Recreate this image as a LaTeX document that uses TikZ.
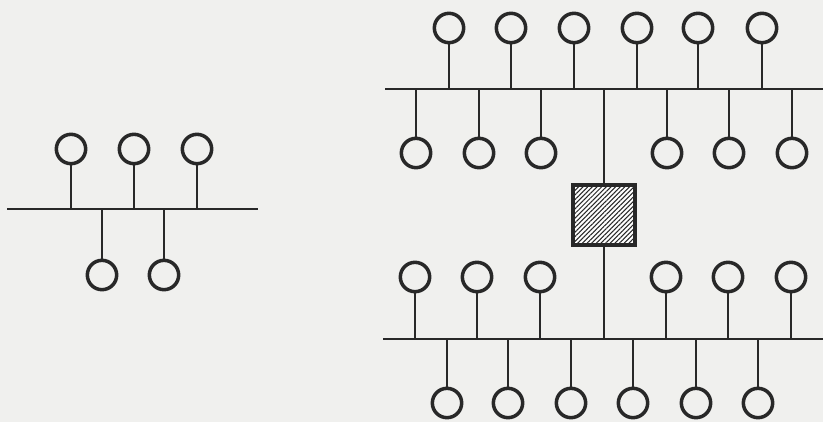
\documentclass[tikz,border=0pt]{standalone}
\usetikzlibrary{patterns.meta}

\definecolor{paper}{RGB}{240,240,238}
\definecolor{ink}{RGB}{40,40,40}

\begin{document}
\begin{tikzpicture}[x=0.03cm,y=-0.03cm,
  station/.style={circle,draw=ink,line width=3pt,minimum size=0.88cm,inner sep=0pt},
  wire/.style={draw=ink,line width=2.5pt},
  repeater/.style={draw=ink,line width=2.6pt,minimum width=1.86cm,minimum height=1.8cm,
    inner sep=0pt,preaction={fill=white},
    pattern={Lines[angle=45,distance=2.8pt,line width=0.9pt]},pattern color=ink}]

% Paper
\fill[paper] (0,0) rectangle (823,422);
\useasboundingbox (0,0) rectangle (823,422);

% ============================
% LEFT — SINGLE SEGMENT
% ============================

\coordinate (l-w) at (7,209);
\coordinate (l-e) at (258,209);
\draw[wire] (l-w) -- (l-e);

\foreach \i/\x in {1/71,2/134,3/197} {
  \node[station] (l-up-\i) at (\x,149) {};
  \draw[wire] (l-up-\i.south) -- (l-up-\i.south |- l-w);
}
\foreach \i/\x in {1/102,2/164} {
  \node[station] (l-dn-\i) at (\x,275) {};
  \draw[wire] (l-dn-\i.north) -- (l-dn-\i.north |- l-w);
}

% ============================
% RIGHT — TWO SEGMENTS + REPEATER
% ============================

% Upper segment
\coordinate (a-w) at (385,89);
\coordinate (a-e) at (823,89);
\draw[wire] (a-w) -- (a-e);

\foreach \i/\x in {1/449,2/511,3/574,4/637,5/698,6/762} {
  \node[station] (a-up-\i) at (\x,28) {};
  \draw[wire] (a-up-\i.south) -- (a-up-\i.south |- a-w);
}
\foreach \i/\x in {1/416,2/479,3/541,4/667,5/729,6/792} {
  \node[station] (a-dn-\i) at (\x,153) {};
  \draw[wire] (a-dn-\i.north) -- (a-dn-\i.north |- a-w);
}

% Lower segment
\coordinate (b-w) at (383,339);
\coordinate (b-e) at (823,339);
\draw[wire] (b-w) -- (b-e);

\foreach \i/\x in {1/415,2/477,3/540,4/666,5/728,6/791} {
  \node[station] (b-up-\i) at (\x,277) {};
  \draw[wire] (b-up-\i.south) -- (b-up-\i.south |- b-w);
}
\foreach \i/\x in {1/447,2/508,3/571,4/633,5/696,6/758} {
  \node[station] (b-dn-\i) at (\x,403) {};
  \draw[wire] (b-dn-\i.north) -- (b-dn-\i.north |- b-w);
}

% Repeater between the segments
\node[repeater] (rep) at (604,215) {};
\draw[wire] (rep.north) -- (rep.north |- a-w);
\draw[wire] (rep.south) -- (rep.south |- b-w);

\end{tikzpicture}
\end{document}
